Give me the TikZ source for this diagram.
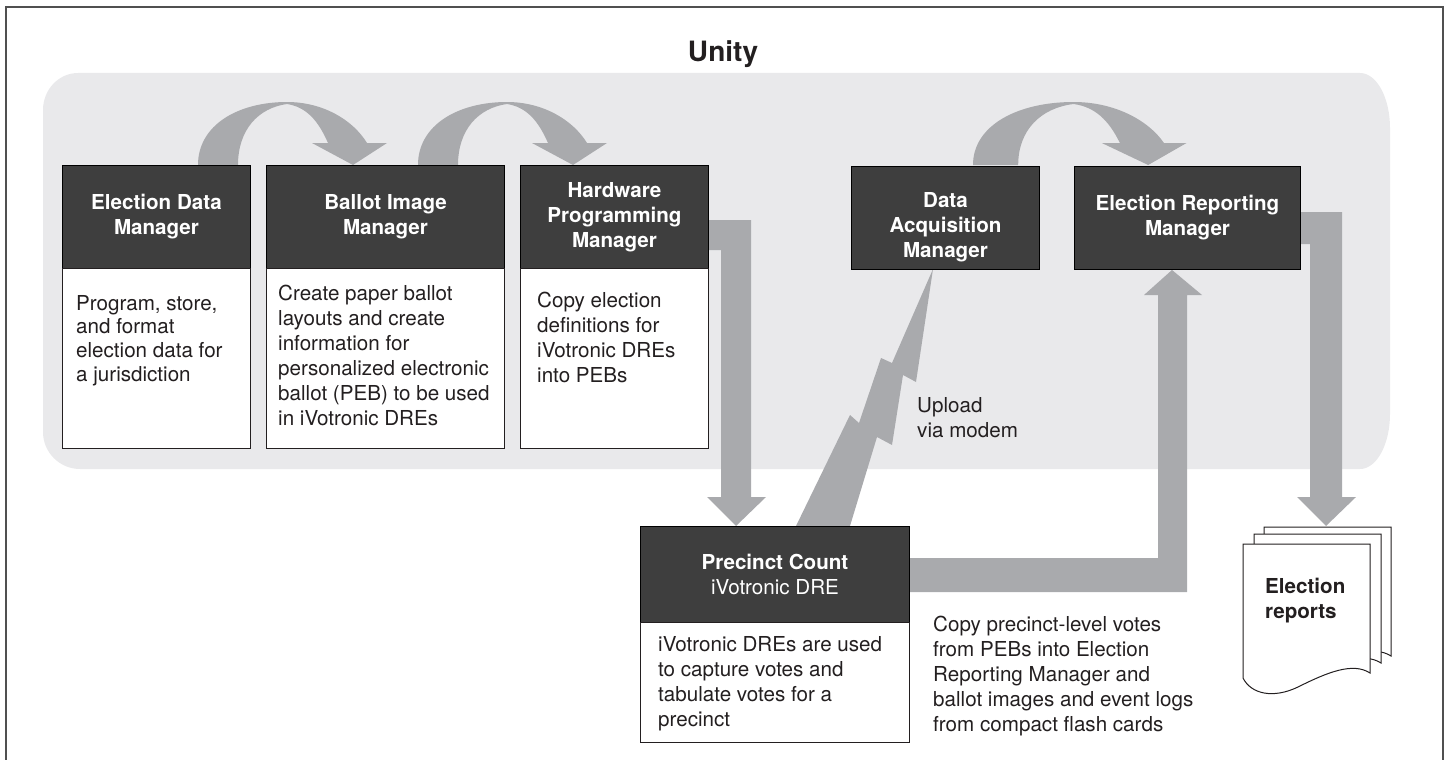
\documentclass[tikz,border=0pt]{standalone}
\usepackage{fontspec}
\setmainfont{TeX Gyre Heros}
\usetikzlibrary{calc}
\pgfdeclarelayer{bg}
\pgfdeclarelayer{mid}
\pgfsetlayers{bg,mid,main}
\definecolor{regiongray}{RGB}{233,233,235}
\definecolor{arrowgray}{RGB}{169,170,173}
\definecolor{hdrgray}{RGB}{62,62,62}
\definecolor{ink}{RGB}{35,31,32}
\definecolor{framecol}{RGB}{80,80,80}
\tikzset{
  hdr/.style={draw=black, line width=1pt, fill=hdrgray, text=white,
    font=\bfseries\fontsize{20.6}{25}\selectfont, align=center, inner sep=0pt,
    minimum height=103pt},
  hdrtxt/.style={text=white, font=\bfseries\fontsize{20.6}{25}\selectfont, align=center, inner sep=0pt},
  bodybox/.style={draw=ink, line width=1.2pt, fill=white, inner sep=0pt, anchor=north west},
  txt/.style={text=ink, font=\fontsize{20.6}{25}\selectfont, align=left, inner sep=0pt, anchor=north west},
  fat/.style={fill=arrowgray},
  docpage/.pic={\draw[ink, fill=white, line width=1pt] (0,0) -- (127,0) -- (127,129)
     .. controls (110,118) and (85,128) .. (55,143)
     .. controls (30,155) and (8,150) .. (0,134) -- cycle;},
  curvarrow/.pic={\fill[fat] (0,0) .. controls (0,-40) and (40,-63) .. (89,-63)
      .. controls (125,-63) and (155,-45) .. (169,-22)
      -- (189,-22) -- (155,0) -- (114,-22) -- (130,-22)
      .. controls (120,-45) and (108,-58) .. (89,-61)
      .. controls (60,-57) and (40,-35) .. (40,0) -- cycle;}
}
\begin{document}
\begin{tikzpicture}[x=1pt,y=-1pt]
\useasboundingbox (0,0) rectangle (1449,760);
% frame
\draw[framecol, line width=2pt] (6,760) -- (6,7) -- (1443,7) -- (1443,760);
% title
\node[text=ink, font=\bfseries\fontsize{28}{32}\selectfont, anchor=base, inner sep=0pt] (title) at (723,62) {Unity};

% header and body boxes
\node[hdr, anchor=north west, minimum width=188pt] (h1) at (62,165) {Election Data\\Manager};
\node[bodybox, minimum width=188pt, minimum height=180pt] (b1) at (62,268) {};
\node[hdr, anchor=north west, minimum width=238pt] (h2) at (266,165) {Ballot Image\\Manager};
\node[bodybox, minimum width=238pt, minimum height=180pt] (b2) at (266,268) {};
\node[hdr, anchor=north west, minimum width=188pt] (h3) at (520,165) {Hardware\\Programming\\Manager};
\node[bodybox, minimum width=188pt, minimum height=180pt] (b3) at (520,268) {};
\node[hdr, anchor=north west, minimum width=188pt] (dam) at (851,166) {};
\node[hdrtxt] (damlabel) at ([yshift=-9pt]dam.center) {Data\\Acquisition\\Manager};
\node[hdr, anchor=north west, minimum width=226pt] (erm) at (1074,166) {Election Reporting\\Manager};
\node[hdr, anchor=north west, minimum width=269pt, minimum height=96pt] (pch) at (640,526) {Precinct Count\\{\mdseries iVotronic DRE}};
\node[bodybox, minimum width=269pt, minimum height=120pt] (pcb) at (640,622) {};

% body texts
\node[txt, font=\fontsize{20.6}{23.6}\selectfont] (t1) at ($(b1.north west)+(14,27)$) {Program, store,\\and format\\election data for\\a jurisdiction};
\node[txt] (t2) at ($(b2.north west)+(12,17)$) {Create paper ballot\\layouts and create\\information for\\personalized electronic\\ballot (PEB) to be used\\in iVotronic DREs};
\node[txt] (t3) at ($(b3.north west)+(17,24)$) {Copy election\\definitions for\\iVotronic DREs\\into PEBs};
\node[txt] (t4) at ($(pcb.north west)+(18,14)$) {iVotronic DREs are used\\to capture votes and\\tabulate votes for a\\precinct};
\node[txt] (upload) at (917,397) {Upload\\via modem};
\node[txt] (copytxt) at (933,616) {Copy precinct-level votes\\from PEBs into Election\\Reporting Manager and\\ballot images and event logs\\from compact flash cards};

% document stack
\pic at (1264,527) {docpage};
\pic at (1254,534) {docpage};
\pic at (1243,544) {docpage};
\node[txt, font=\bfseries\fontsize{20.6}{25}\selectfont] (reports) at (1265,578) {Election\\reports};
\coordinate (repTop) at (1326,526);

% arrow anchor coordinates
\coordinate (a1) at ($(h1.north west)+(136,0)$);
\coordinate (a2) at ($(h2.north west)+(152,0)$);
\coordinate (a3) at ($(dam.north west)+(122,-1)$);
\coordinate (pchIn) at ($(pch.north west)+(96,0)$);
\coordinate (ermIn) at ($(erm.south west)+(98,0)$);

% background region
\begin{pgfonlayer}{bg}
\fill[regiongray] (78,73) -- (1360,73) .. controls (1376.6,73) and (1390,97.6) .. (1390,128)
  -- (1390,414) .. controls (1390,444.4) and (1376.6,469) .. (1360,469)
  -- (80,469) .. controls (59.6,469) and (43,452.4) .. (43,432)
  -- (43,110) .. controls (43,89.6) and (58.7,73) .. (78,73) -- cycle;
\end{pgfonlayer}

% fat arrows
\begin{pgfonlayer}{mid}
\pic at (a1) {curvarrow};
\pic at (a2) {curvarrow};
\pic[xscale=1.13] at (a3) {curvarrow};
% Hardware Programming Manager -> Precinct Count
\fill[fat] ($(h3.north east)+(0,55)$) -- ++(42,0) -- ++(0,277) -- ++(15,0) -- (pchIn)
  -- (707,497) -- ++(14,0) -- ++(0,-247) -- ++(-13,0) -- cycle;
% Precinct Count -> Election Reporting Manager
\fill[fat] ($(pch.north east)+(0,32)$) -- ++(248,0) -- ++(0,-263) -- ++(-14,0) -- (ermIn)
  -- (1202,295) -- ++(-15,0) -- ++(0,297) -- ++(-278,0) -- cycle;
% Election Reporting Manager -> Election reports
\fill[fat] ($(erm.north east)+(0,46)$) -- ++(41,0) -- ++(0,285) -- ++(14,0) -- (repTop)
  -- (1297,497) -- ++(13,0) -- ++(0,-253) -- ++(-10,0) -- cycle;
% lightning: Precinct Count -> Data Acquisition Manager
\begin{scope}[shift={(pch.north west)}]
  \fill[fat] (156,0) -- (210,-111) -- (219,-103) -- (241,-168) -- (252,-163) -- (293,-257)
    -- (276,-144) -- (263,-151) -- (252,-81) -- (237,-89) -- (210,0) -- cycle;
\end{scope}
\end{pgfonlayer}
\end{tikzpicture}
\end{document}
